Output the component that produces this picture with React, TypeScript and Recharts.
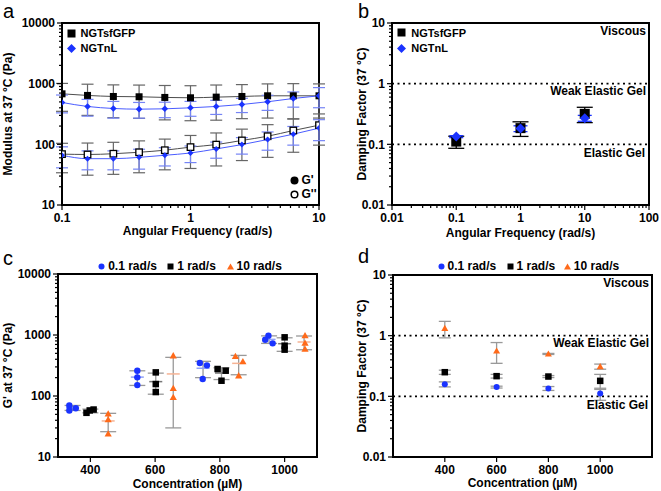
import React from 'react';
import { LineChart, Line, ScatterChart, Scatter, XAxis, YAxis, ErrorBar, ReferenceLine, ReferenceArea } from 'recharts';

const FONT = '"Liberation Sans", Arial, Helvetica, sans-serif';
const BLUE = '#1a33ff';
const ORANGE = '#ff6a1a';

// a: frequency sweep (Pa)
const freqs = [0.1, 0.158, 0.251, 0.398, 0.631, 1, 1.585, 2.512, 3.981, 6.31, 10];
const gfpStorage = [680, 640, 615, 608, 593, 585, 600, 615, 631, 631, 631];
const gfpStorageSd = [330, 340, 340, 340, 340, 340, 350, 350, 360, 370, 360];
const gfpLoss = [69, 68, 70, 74, 80, 90, 99, 116, 136, 169, 207];
const gfpLossSd = [35, 37, 38, 40, 42, 50, 55, 62, 75, 95, 110];
const nlStorage = [490, 421, 390, 380, 385, 400, 421, 454, 503, 570, 631];
const nlStorageSd = [160, 130, 120, 110, 110, 110, 110, 120, 140, 160, 230];
const nlLoss = [66, 58, 58, 61, 66, 72, 84, 99, 120, 147, 185];
const nlLossSd = [25, 20, 20, 22, 22, 22, 25, 30, 40, 50, 70];

// b: damping factor vs frequency
const dampFreqs = [0.1, 1, 10];
const gfpDamping = [0.111, 0.185, 0.318];
const gfpDampingSd = [0.025, 0.05, 0.09];
const nlDamping = [0.134, 0.182, 0.27];
const nlDampingSd = [0.005, 0.02, 0.03];

// c: G' replicates per concentration (x jittered like the original)
const slowX = [[335, 335, 355], [545, 545, 545], [738, 760, 747], [950, 940, 963]];
const slowG = [[70, 58, 63], [260, 202, 151], [348, 318, 190], [975, 838, 730]];
const midX = [[388, 398, 410], [602, 602, 602], [793, 818, 805], [1000, 1000, 1000]];
const midG = [[53, 58, 60], [244, 157, 116], [277, 260, 178], [916, 668, 575]];
const fastX = [[455, 455, 455], [656, 656, 656], [848, 871, 858], [1063, 1063, 1063]];
const fastG = [[51, 41, 24], [458, 134, 95], [447, 366, 215], [975, 740, 590]];
const slowMeanX = [345, 545, 748, 952];
const slowMean = [64, 204, 285, 848];
const slowSd = [6, 55, 85, 120];
const midMeanX = [400, 602, 805, 1000];
const midMean = [57, 172, 238, 720];
const midSd = [4, 65, 52, 180];
const fastMeanX = [455, 656, 858, 1060];
const fastMean = [39, 230, 343, 768];
const fastSd = [13, 200, 120, 195];

// d: damping factor vs concentration
const concs = [400, 600, 800, 1000];
const slowDamp = [0.158, 0.142, 0.135, 0.111];
const slowDampSd = [0.015, 0.005, 0.01, 0.025];
const midDamp = [0.25, 0.215, 0.212, 0.18];
const midDampSd = [0.02, 0.015, 0.008, 0.05];
const fastDamp = [1.32, 0.56, 0.5, 0.31];
const fastDampSd = [0.4, 0.21, 0.01, 0.03];

const sweepRows = freqs.map((f, i) => ({
  f,
  gs: gfpStorage[i], gse: gfpStorageSd[i],
  gl: gfpLoss[i], gle: gfpLossSd[i],
  ns: nlStorage[i], nse: nlStorageSd[i],
  nl: nlLoss[i], nle: nlLossSd[i],
}));
const pts = (xs: number[], ys: number[], es?: number[]) => xs.map((x, i) => ({ x, y: ys[i], e: es ? es[i] : 0 }));
const reps = (xs: number[][], ys: number[][]) => xs.flatMap((row, i) => row.map((x, j) => ({ x, y: ys[i][j] })));

const logTicks = (lo: number, hi: number) => {
  const out: number[] = [];
  for (let e = Math.round(Math.log10(lo)); e < Math.round(Math.log10(hi)); e++) {
    for (let m = 1; m < 10; m++) out.push(+(m * Math.pow(10, e)).toPrecision(3));
  }
  out.push(hi);
  return out;
};
const isMajor = (v: number) => Math.abs(Math.log10(v) - Math.round(Math.log10(v))) < 1e-6;
const fmt = (v: number) => String(+v.toPrecision(3));

const TS = 5;
const TG = 2;
const txt = { fontSize: 12, fontWeight: 'bold' as const, fontFamily: FONT, fill: '#000' };

const leftTick = (log: boolean) => (p: any) => {
  const v = p.payload.value;
  const major = !log || isMajor(v);
  const ax = p.x + TS + TG;
  return (
    <g>
      <line x1={ax - (major ? TS : 3)} x2={ax} y1={p.y} y2={p.y} stroke="#000" strokeWidth={1.2} />
      {major && <text x={p.x} y={p.y} dy="0.36em" textAnchor="end" {...txt}>{fmt(v)}</text>}
    </g>
  );
};
const bottomTick = (log: boolean) => (p: any) => {
  const v = p.payload.value;
  const major = !log || isMajor(v);
  const ay = p.y - TS - TG;
  return (
    <g>
      <line x1={p.x} x2={p.x} y1={ay} y2={ay + (major ? TS : 3)} stroke="#000" strokeWidth={1.2} />
      {major && <text x={p.x} y={p.y + 1} dy="0.75em" textAnchor="middle" {...txt}>{fmt(v)}</text>}
    </g>
  );
};

const axisLine = { stroke: '#000', strokeWidth: 2 };
const yLabel = (value: string, offset: number) => ({
  value, angle: -90, position: 'insideLeft' as const, offset,
  style: { textAnchor: 'middle', fontSize: 12, fontWeight: 'bold', fontFamily: FONT, fill: '#000' },
});
const xLabel = (value: string, offset: number) => ({
  value, position: 'insideBottom' as const, offset,
  style: { fontSize: 12, fontWeight: 'bold', fontFamily: FONT, fill: '#000' },
});
const zoneLabel = (value: string, offset: number) => ({
  value, position: 'insideTopRight' as const, offset, ...txt,
});

// marker shapes
const square = (s: number, fill: string, stroke = 'none') => (p: any) =>
  <rect key={`s-${p.index}-${p.cx}`} x={p.cx - s / 2} y={p.cy - s / 2} width={s} height={s} fill={fill} stroke={stroke} strokeWidth={1.3} />;
const diamond = (r: number, fill: string) => (p: any) =>
  <polygon key={`d-${p.index}-${p.cx}`} points={`${p.cx},${p.cy - r} ${p.cx + r},${p.cy} ${p.cx},${p.cy + r} ${p.cx - r},${p.cy}`} fill={fill} />;
const circle = (r: number, fill: string) => (p: any) =>
  <circle key={`c-${p.index}-${p.cx}`} cx={p.cx} cy={p.cy} r={r} fill={fill} />;
const triangle = (r: number, fill: string) => (p: any) =>
  <polygon key={`t-${p.index}-${p.cx}`} points={`${p.cx},${p.cy - r} ${p.cx + r},${p.cy + r * 0.75} ${p.cx - r},${p.cy + r * 0.75}`} fill={fill} />;
const meanBar = (color: string) => (p: any) =>
  <line key={`m-${p.cx}`} x1={p.cx - 6.5} x2={p.cx + 6.5} y1={p.cy} y2={p.cy} stroke={color} strokeWidth={1.5} />;
const nothing = () => <g />;

const Key = ({ x, y, icon, label, gap = 5, size = 11 }: any) => (
  <div style={{ position: 'absolute', left: x - 4.5, top: y - 7, display: 'flex', alignItems: 'center', height: 14, gap, font: `bold ${size}px ${FONT}`, whiteSpace: 'nowrap' }}>
    <svg width={9} height={9} style={{ display: 'block' }}>{icon}</svg>
    <span>{label}</span>
  </div>
);
// panel letter, 20px with a 20px line box: baseline sits ~16.9px below the box top
const Letter = ({ x, base, ch }: any) => (
  <div style={{ position: 'absolute', left: x, top: Math.max(1.2, base - 16.9), font: `20px ${FONT}`, lineHeight: '20px' }}>{ch}</div>
);

export default function App() {
  return (
    <div style={{ position: 'absolute', left: 0, top: 0, width: 661, height: 491, background: '#fff' }}>
      {/* a */}
      <div style={{ position: 'absolute', left: 0, top: 0 }}>
        <LineChart width={330} height={240} data={sweepRows} margin={{ top: 23, right: 11, bottom: 0, left: 0 }}>
          <XAxis dataKey="f" type="number" scale="log" domain={[0.1, 10]} allowDataOverflow ticks={logTicks(0.1, 10)} interval={0}
            height={35} tickSize={TS} tickMargin={TG} tickLine={false} axisLine={axisLine} tick={bottomTick(true)}
            label={{ ...xLabel('Angular Frequency (rad/s)', 5), dx: 7 }} />
          <YAxis type="number" scale="log" domain={[10, 10000]} allowDataOverflow ticks={logTicks(10, 10000)} interval={0}
            width={62} tickSize={TS} tickMargin={TG} tickLine={false} axisLine={axisLine} tick={leftTick(true)}
            label={yLabel('Modulus at 37 °C (Pa)', 8)} />
          <ReferenceArea x1={0.1} x2={10} y1={10} y2={10000} fill="none" stroke="#000" strokeWidth={2} />
          <Line dataKey="gl" type="monotone" stroke="#4d4d4d" strokeWidth={1} isAnimationActive={false} dot={square(6.5, '#fff', '#000')}>
            <ErrorBar dataKey="gle" direction="y" width={6} stroke="#666" strokeWidth={1.2} />
          </Line>
          <Line dataKey="gs" type="monotone" stroke="#4d4d4d" strokeWidth={1} isAnimationActive={false} dot={square(7, '#000')}>
            <ErrorBar dataKey="gse" direction="y" width={6} stroke="#666" strokeWidth={1.2} />
          </Line>
          <Line dataKey="nl" type="monotone" stroke="#4a5cff" strokeWidth={1} isAnimationActive={false} dot={diamond(3, BLUE)}>
            <ErrorBar dataKey="nle" direction="y" width={6} stroke="#7584f5" strokeWidth={1.2} />
          </Line>
          <Line dataKey="ns" type="monotone" stroke="#4a5cff" strokeWidth={1} isAnimationActive={false} dot={diamond(3.3, BLUE)}>
            <ErrorBar dataKey="nse" direction="y" width={6} stroke="#7584f5" strokeWidth={1.2} />
          </Line>
        </LineChart>
        <Key x={71} y={33} label="NGTsfGFP" icon={<rect x={0.5} y={0.5} width={8} height={8} fill="#000" />} />
        <Key x={71} y={48} label="NGTnL" icon={<polygon points="4.5,0 9,4.5 4.5,9 0,4.5" fill={BLUE} />} />
        <Key x={294} y={180} size={12} gap={3} label="G'" icon={<circle cx={4.5} cy={4.5} r={4} fill="#000" />} />
        <Key x={294} y={194} size={12} gap={3} label={"G''"} icon={<circle cx={4.5} cy={4.5} r={3.3} fill="#fff" stroke="#000" strokeWidth={1.5} />} />
        <Letter x={3} base={18} ch="a" />
      </div>

      {/* b */}
      <div style={{ position: 'absolute', left: 330, top: 0 }}>
        <ScatterChart width={331} height={240} margin={{ top: 23, right: 12, bottom: 0, left: 0 }}>
          <XAxis dataKey="x" type="number" scale="log" domain={[0.01, 100]} allowDataOverflow ticks={logTicks(0.01, 100)} interval={0}
            height={35} tickSize={TS} tickMargin={TG} tickLine={false} axisLine={axisLine} tick={bottomTick(true)}
            label={xLabel('Angular Frequency (rad/s)', 3)} />
          <YAxis dataKey="y" type="number" scale="log" domain={[0.01, 10]} allowDataOverflow ticks={logTicks(0.01, 10)} interval={0}
            width={62} tickSize={TS} tickMargin={TG} tickLine={false} axisLine={axisLine} tick={leftTick(true)}
            label={yLabel('Damping Factor (37 °C)', 32)} />
          <ReferenceArea x1={0.01} x2={100} y1={0.01} y2={10} fill="none" stroke="#000" strokeWidth={2} />
          <ReferenceLine y={10} stroke="none" label={zoneLabel('Viscous', 3)} />
          <ReferenceLine y={1} stroke="#000" strokeWidth={1.8} strokeDasharray="2 3.5" label={zoneLabel('Weak Elastic Gel', 3)} />
          <ReferenceLine y={0.1} stroke="#000" strokeWidth={1.8} strokeDasharray="2 3.5" label={zoneLabel('Elastic Gel', 4)} />
          <Scatter data={pts(dampFreqs, gfpDamping, gfpDampingSd)} shape={nothing} isAnimationActive={false}>
            <ErrorBar dataKey="e" direction="y" width={8} stroke="#000" strokeWidth={1.3} />
          </Scatter>
          <Scatter data={pts(dampFreqs, nlDamping, nlDampingSd)} shape={nothing} isAnimationActive={false}>
            <ErrorBar dataKey="e" direction="y" width={7} stroke={BLUE} strokeWidth={1.3} />
          </Scatter>
          <Scatter data={pts(dampFreqs, gfpDamping)} shape={square(10, '#000')} isAnimationActive={false} />
          <Scatter data={pts(dampFreqs, nlDamping)} shape={diamond(5, BLUE)} isAnimationActive={false} />
        </ScatterChart>
        <Key x={71.7} y={32.7} label="NGTsfGFP" icon={<rect x={0.5} y={0.5} width={8} height={8} fill="#000" />} />
        <Key x={71.7} y={48.3} label="NGTnL" icon={<polygon points="4.5,0 9,4.5 4.5,9 0,4.5" fill={BLUE} />} />
        <Letter x={28} base={18} ch="b" />
      </div>

      {/* c */}
      <div style={{ position: 'absolute', left: 0, top: 240 }}>
        <ScatterChart width={330} height={251} margin={{ top: 34, right: 13, bottom: 0, left: 0 }}>
          <XAxis dataKey="x" type="number" domain={[300, 1100]} allowDataOverflow ticks={concs} interval={0}
            height={34} tickSize={TS} tickMargin={TG} tickLine={false} axisLine={axisLine} tick={bottomTick(false)}
            label={xLabel('Concentration (µM)', 3)} />
          <YAxis dataKey="y" type="number" scale="log" domain={[10, 10000]} allowDataOverflow ticks={logTicks(10, 10000)} interval={0}
            width={58} tickSize={TS} tickMargin={TG} tickLine={false} axisLine={axisLine} tick={leftTick(true)}
            label={yLabel("G' at 37 °C (Pa)", 8)} />
          <ReferenceArea x1={300} x2={1100} y1={10} y2={10000} fill="none" stroke="#000" strokeWidth={2} />
          <Scatter data={pts(slowMeanX, slowMean, slowSd)} shape={meanBar('#8fa0f7')} isAnimationActive={false}>
            <ErrorBar dataKey="e" direction="y" width={8} stroke="#999" strokeWidth={1.3} />
          </Scatter>
          <Scatter data={pts(midMeanX, midMean, midSd)} shape={meanBar('#777')} isAnimationActive={false}>
            <ErrorBar dataKey="e" direction="y" width={8} stroke="#999" strokeWidth={1.3} />
          </Scatter>
          <Scatter data={pts(fastMeanX, fastMean, fastSd)} shape={meanBar('#f6b394')} isAnimationActive={false}>
            <ErrorBar dataKey="e" direction="y" width={8} stroke="#999" strokeWidth={1.3} />
          </Scatter>
          <Scatter data={reps(slowX, slowG)} shape={circle(3.2, BLUE)} isAnimationActive={false} />
          <Scatter data={reps(midX, midG)} shape={square(6.5, '#000')} isAnimationActive={false} />
          <Scatter data={reps(fastX, fastG)} shape={triangle(3.6, ORANGE)} isAnimationActive={false} />
        </ScatterChart>
        <Key x={101.7} y={26} size={12} gap={2} label="0.1 rad/s" icon={<circle cx={4.5} cy={4.5} r={3} fill={BLUE} />} />
        <Key x={170.7} y={26} size={12} gap={2} label="1 rad/s" icon={<rect x={1.5} y={1.5} width={6} height={6} fill="#000" />} />
        <Key x={230} y={26} size={12} gap={2} label="10 rad/s" icon={<polygon points="4.5,1.5 8,7.5 1,7.5" fill={ORANGE} />} />
        <Letter x={3} base={25} ch="c" />
      </div>

      {/* d */}
      <div style={{ position: 'absolute', left: 330, top: 240 }}>
        <ScatterChart width={331} height={251} margin={{ top: 35, right: 9, bottom: 0, left: 0 }}>
          <XAxis dataKey="x" type="number" domain={[200, 1200]} allowDataOverflow ticks={concs} interval={0}
            height={34} tickSize={TS} tickMargin={TG} tickLine={false} axisLine={axisLine} tick={bottomTick(false)}
            label={xLabel('Concentration (µM)', 4)} />
          <YAxis dataKey="y" type="number" scale="log" domain={[0.01, 10]} allowDataOverflow ticks={logTicks(0.01, 10)} interval={0}
            width={63} tickSize={TS} tickMargin={TG} tickLine={false} axisLine={axisLine} tick={leftTick(true)}
            label={yLabel('Damping Factor (37 °C)', 32)} />
          <ReferenceArea x1={200} x2={1200} y1={0.01} y2={10} fill="none" stroke="#000" strokeWidth={2} />
          <ReferenceLine y={10} stroke="none" label={zoneLabel('Viscous', 3)} />
          <ReferenceLine y={1} stroke="#000" strokeWidth={1.8} strokeDasharray="2 3.5" label={zoneLabel('Weak Elastic Gel', 3)} />
          <ReferenceLine y={0.1} stroke="#000" strokeWidth={1.8} strokeDasharray="2 3.5" label={zoneLabel('Elastic Gel', 4)} />
          <Scatter data={pts(concs, slowDamp, slowDampSd)} shape={nothing} isAnimationActive={false}>
            <ErrorBar dataKey="e" direction="y" width={6} stroke="#999" strokeWidth={1.3} />
          </Scatter>
          <Scatter data={pts(concs, midDamp, midDampSd)} shape={nothing} isAnimationActive={false}>
            <ErrorBar dataKey="e" direction="y" width={6} stroke="#999" strokeWidth={1.3} />
          </Scatter>
          <Scatter data={pts(concs, fastDamp, fastDampSd)} shape={nothing} isAnimationActive={false}>
            <ErrorBar dataKey="e" direction="y" width={6} stroke="#999" strokeWidth={1.3} />
          </Scatter>
          <Scatter data={pts(concs, slowDamp)} shape={circle(3, BLUE)} isAnimationActive={false} />
          <Scatter data={pts(concs, midDamp)} shape={square(6.5, '#000')} isAnimationActive={false} />
          <Scatter data={pts(concs, fastDamp)} shape={triangle(3.5, ORANGE)} isAnimationActive={false} />
        </ScatterChart>
        <Key x={111} y={26} size={12} gap={2} label="0.1 rad/s" icon={<circle cx={4.5} cy={4.5} r={3} fill={BLUE} />} />
        <Key x={180} y={26} size={12} gap={2} label="1 rad/s" icon={<rect x={1.5} y={1.5} width={6} height={6} fill="#000" />} />
        <Key x={237.3} y={26} size={12} gap={2} label="10 rad/s" icon={<polygon points="4.5,1.5 8,7.5 1,7.5" fill={ORANGE} />} />
        <Letter x={28} base={23} ch="d" />
      </div>
    </div>
  );
}
